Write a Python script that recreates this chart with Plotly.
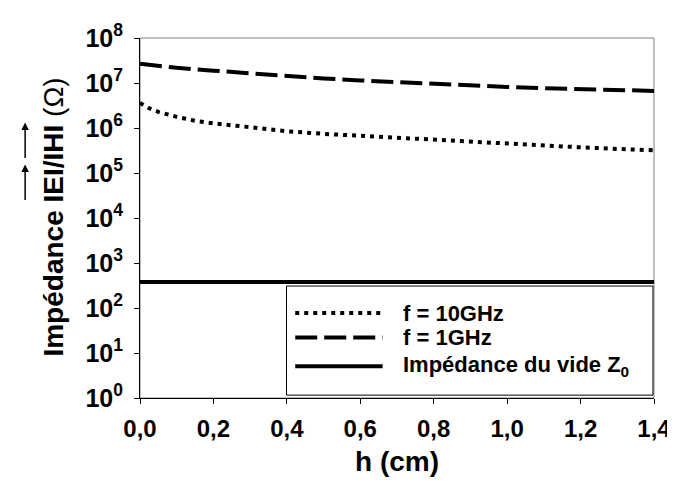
import plotly.graph_objects as go

# h (cm) and impedances (Ohm)
H_10GHZ = [0.0, 0.025, 0.05, 0.1, 0.15, 0.2, 0.3, 0.4, 0.5, 0.6, 0.7, 0.8, 0.9, 1.0, 1.1, 1.2, 1.3, 1.4]
Z_10GHZ = [3.61e6, 2.74e6, 2.28e6, 1.77e6, 1.45e6, 1.27e6, 1.04e6, 8.47e5, 7.41e5, 6.68e5,
           5.98e5, 5.45e5, 4.86e5, 4.47e5, 4.07e5, 3.72e5, 3.43e5, 3.20e5]

H_1GHZ = [0.0, 0.1, 0.2, 0.3, 0.4, 0.5, 0.6, 0.7, 0.8, 0.9, 1.0, 1.1, 1.2, 1.3, 1.4]
Z_1GHZ = [2.69e7, 2.17e7, 1.88e7, 1.64e7, 1.41e7, 1.26e7, 1.14e7, 1.04e7, 9.6e6, 8.85e6,
          8.2e6, 7.69e6, 7.21e6, 6.89e6, 6.67e6]

H_VIDE = [0.0, 1.4]
Z_VIDE = [377, 377]

X_TICKS = [0.0, 0.2, 0.4, 0.6, 0.8, 1.0, 1.2, 1.4]
Y_EXP = list(range(0, 9))

LABELS = ["f = 10GHz", "f = 1GHz", "Impédance du vide Z<sub>0</sub>"]

FONT = "Liberation Sans, Arial, sans-serif"
DOT = "4px,5px"
DASH = "22px,7px"
LW = 4

fig = go.Figure()
fig.add_trace(go.Scatter(x=H_10GHZ, y=Z_10GHZ, mode="lines",
                         line=dict(color="black", width=LW, dash=DOT)))
fig.add_trace(go.Scatter(x=H_1GHZ, y=Z_1GHZ, mode="lines",
                         line=dict(color="black", width=LW, dash=DASH)))
fig.add_trace(go.Scatter(x=H_VIDE, y=Z_VIDE, mode="lines",
                         line=dict(color="black", width=LW)))

# frame (grey top/right like the original)
fig.add_shape(type="rect", xref="paper", yref="paper", x0=0, x1=1, y0=0, y1=1,
              line=dict(color="#808080", width=1), layer="below")

# hand-drawn legend with long line samples
fig.add_shape(type="rect", xref="paper", yref="paper", x0=0.285, x1=0.998, y0=0.008, y1=0.311,
              line=dict(color="black", width=1), fillcolor="white")
leg_y = [0.236, 0.168, 0.088]
styles = [DOT, DASH, "solid"]
for yy, st, lab in zip(leg_y, styles, LABELS):
    fig.add_shape(type="line", xref="paper", yref="paper", x0=0.302, x1=0.472, y0=yy, y1=yy,
                  line=dict(color="black", width=LW, dash=st))
    fig.add_annotation(xref="paper", yref="paper", x=0.508, y=yy, text="<b>" + lab + "</b>",
                       showarrow=False, xanchor="left", yanchor="middle",
                       font=dict(family=FONT, size=22, color="black"))

# axis titles
fig.add_annotation(xref="paper", yref="paper", x=-0.168, y=0.503, textangle=-90,
                   text="<b>Impédance IEI/IHI</b> (Ω)", showarrow=False,
                   xanchor="center", yanchor="middle",
                   font=dict(family=FONT, size=28, color="black"))
fig.add_annotation(xref="paper", yref="paper", x=0.5, y=-0.176, text="<b>h (cm)</b>",
                   showarrow=False, xanchor="center", yanchor="middle",
                   font=dict(family=FONT, size=28, color="black"))

# vector arrows over E and H
for yh in [0.6486, 0.765]:
    fig.add_annotation(xref="paper", yref="paper", x=-0.2235, y=yh, ax=0, ay=37,
                       text="", showarrow=True, arrowhead=2, arrowsize=1,
                       arrowwidth=1.5, arrowcolor="black")

fig.update_layout(
    width=675, height=484,
    margin=dict(l=132, r=20, t=20, b=94),
    plot_bgcolor="white", paper_bgcolor="white",
    showlegend=False,
    separators=", ",
    font=dict(family=FONT, color="black"),
    xaxis=dict(range=[0, 1.4], tickvals=X_TICKS, tickformat=".1f",
               ticks="outside", ticklen=5, tickcolor="black",
               showline=True, linecolor="black", linewidth=1,
               showgrid=False, zeroline=False, ticklabelstandoff=4,
               tickfont=dict(family=FONT, size=24, color="black", weight="bold")),
    yaxis=dict(type="log", range=[0, 8],
               tickvals=[10 ** e for e in Y_EXP],
               ticktext=["10<sup>%d</sup>" % e for e in Y_EXP],
               ticks="outside", ticklen=5, tickcolor="black",
               showline=True, linecolor="black", linewidth=1,
               showgrid=False, zeroline=False, ticklabelstandoff=6,
               tickfont=dict(family=FONT, size=25, color="black", weight="bold")),
)

fig.write_html("out.html")
